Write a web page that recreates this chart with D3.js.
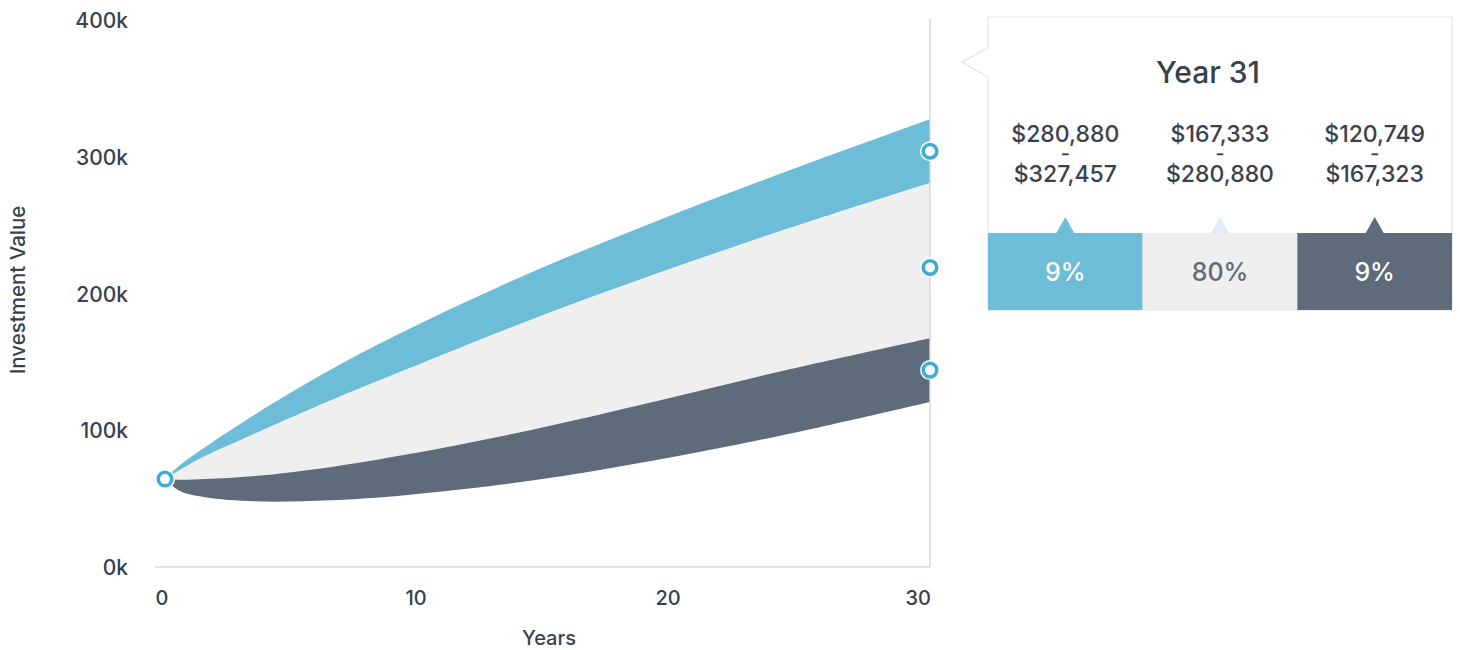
<!DOCTYPE html>
<html>
<head>
<meta charset="utf-8">
<script src="https://cdn.jsdelivr.net/npm/d3@7"></script>
<style>
  html, body { margin: 0; padding: 0; background: #ffffff; }
  svg { display: block; font-family: "Inter", "DejaVu Sans", sans-serif; font-weight: 500; }
</style>
</head>
<body>
<svg id="chart" width="1460" height="650"></svg>
<script>
// ---- data ----
const years      = [0.4, 1, 2, 4, 7, 10, 15, 20, 25, 31];
const topEdge    = [64300, 74500, 87500, 111500, 144000, 172500, 215000, 252500, 287500, 327457];
const upperMid   = [64300, 71000, 81000, 97500, 121500, 144000, 180500, 214000, 245500, 280880];
const lowerMid   = [64300, 63800, 64300, 66500, 73000, 82000, 100000, 121000, 143000, 167323];
const bottomEdge = [64300, 55500, 51000, 48000, 48800, 52500, 63000, 78000, 96000, 120749];

const yTickValues = [0, 100000, 200000, 300000, 400000];
const xTickValues = [0, 10, 20, 30];

const markerYear   = 31;
const markerValues = [304000, 219000, 144000];
const startValue   = 64300;

const tooltipTitle = "Year 31";
const rangeFrom    = ["$280,880", "$167,333", "$120,749"];
const rangeTo      = ["$327,457", "$280,880", "$167,323"];
const bandShares   = ["9%", "80%", "9%"];

const yAxisTitle = "Investment Value";
const xAxisTitle = "Years";

// ---- styles ----
const C_BLUE = "#6dbdd8", C_LIGHT = "#efefef", C_DARK = "#5d6b7b";
const C_TEXT = "#39414d", C_AXIS = "#d6dadf", C_MARK = "#3dabd3";

const svg = d3.select("#chart");

const x = d3.scaleLinear().domain([0, 31]).range([155, 930]);
const y = d3.scaleLinear().domain([0, 400000]).range([567, 20]);

const rows = years.map((t, i) => ({ t, a: topEdge[i], b: upperMid[i], c: lowerMid[i], d: bottomEdge[i] }));

function band(hi, lo) {
  return d3.area()
    .x(d => x(d.t))
    .y0(d => y(d[lo]))
    .y1(d => y(d[hi]))
    .curve(d3.curveCatmullRom.alpha(0.5));
}

svg.append("path").datum(rows).attr("d", band("a", "b")).attr("fill", C_BLUE);
svg.append("path").datum(rows).attr("d", band("b", "c")).attr("fill", C_LIGHT);
svg.append("path").datum(rows).attr("d", band("c", "d")).attr("fill", C_DARK);

// axis baseline & vertical end line
svg.append("line")
  .attr("x1", x(0)).attr("x2", x(31))
  .attr("y1", y(0)).attr("y2", y(0))
  .attr("stroke", C_AXIS).attr("stroke-width", 1.5);
svg.append("line")
  .attr("x1", x(31)).attr("x2", x(31))
  .attr("y1", y(400000) - 1).attr("y2", y(0))
  .attr("stroke", C_AXIS).attr("stroke-width", 1.5);

// y axis labels
const yAxis = d3.axisLeft(y).tickValues(yTickValues).tickSize(0).tickPadding(0)
  .tickFormat(d => (d / 1000) + "k");
const gy = svg.append("g").attr("transform", "translate(128,0)").call(yAxis);
gy.select(".domain").remove();
gy.selectAll("text")
  .attr("font-family", "Inter, DejaVu Sans, sans-serif")
  .attr("font-weight", 500)
  .attr("font-size", 21)
  .attr("fill", C_TEXT)
  .attr("dy", "0.36em");

// x axis labels
const xAxis = d3.axisBottom(x).tickValues(xTickValues).tickSize(0).tickPadding(0)
  .tickFormat(d3.format("d"));
const gx = svg.append("g").attr("transform", "translate(0,605)").call(xAxis);
gx.select(".domain").remove();
gx.selectAll("text")
  .attr("font-family", "Inter, DejaVu Sans, sans-serif")
  .attr("font-weight", 500)
  .attr("font-size", 20)
  .attr("fill", C_TEXT)
  .attr("text-anchor", "start")
  .attr("dy", 0)
  .attr("y", 0);

// axis titles
svg.append("text")
  .attr("transform", "translate(25,290) rotate(-90)")
  .attr("text-anchor", "middle")
  .attr("font-size", 20.5)
  .attr("fill", C_TEXT)
  .text(yAxisTitle);
svg.append("text")
  .attr("x", 549).attr("y", 645)
  .attr("text-anchor", "middle")
  .attr("font-size", 20)
  .attr("fill", C_TEXT)
  .text(xAxisTitle);

// markers
function marker(cx, cy) {
  svg.append("circle").attr("cx", cx).attr("cy", cy).attr("r", 10).attr("fill", "#ffffff");
  svg.append("circle").attr("cx", cx).attr("cy", cy).attr("r", 6.8)
    .attr("fill", "#ffffff").attr("stroke", C_MARK).attr("stroke-width", 3.5);
}
marker(x(years[0]), y(startValue));
markerValues.forEach(v => marker(x(markerYear), y(v)));

// ---- tooltip ----
const tx0 = 988, tx1 = 1452, ty0 = 17, ty1 = 310;
const tip = svg.append("g");
tip.append("path")
  .attr("d", `M${tx0},${ty0} H${tx1} V${ty1} H${tx0} V77 L962,62 L${tx0},48 Z`)
  .attr("fill", "#ffffff").attr("stroke", "#e4e4e4").attr("stroke-width", 1.2);

tip.append("text")
  .attr("x", 1208).attr("y", 83)
  .attr("text-anchor", "middle")
  .attr("font-size", 30)
  .attr("fill", C_TEXT)
  .text(tooltipTitle);

const colW = (tx1 - tx0) / 3;
const stripCols = [C_BLUE, C_LIGHT, C_DARK];
const triCols = [C_BLUE, "#e1eef8", C_DARK];
const pctCols = ["#ffffff", "#5d6b7b", "#ffffff"];
const stripTop = 233;

bandShares.forEach((p, i) => {
  const cx = tx0 + colW * (i + 0.5);
  tip.append("text").attr("x", cx).attr("y", 142).attr("text-anchor", "middle")
    .attr("font-size", 23).attr("fill", C_TEXT).text(rangeFrom[i]);
  tip.append("text")
    .attr("transform", `translate(${cx},157.3) scale(2,1.2)`)
    .attr("text-anchor", "middle")
    .attr("font-size", 8).attr("font-weight", 800)
    .attr("fill", C_TEXT).attr("stroke", C_TEXT).attr("stroke-width", 0.6)
    .text("-");
  tip.append("text").attr("x", cx).attr("y", 182).attr("text-anchor", "middle")
    .attr("font-size", 23).attr("fill", C_TEXT).text(rangeTo[i]);
  tip.append("path")
    .attr("d", `M${cx - 9},${stripTop} L${cx},${stripTop - 16} L${cx + 9},${stripTop} Z`)
    .attr("fill", triCols[i]);
  tip.append("rect")
    .attr("x", tx0 + colW * i).attr("y", stripTop)
    .attr("width", colW).attr("height", ty1 - stripTop)
    .attr("fill", stripCols[i]);
  tip.append("text").attr("x", cx).attr("y", 281).attr("text-anchor", "middle")
    .attr("font-size", 25).attr("fill", pctCols[i]).text(p);
});
</script>
</body>
</html>
